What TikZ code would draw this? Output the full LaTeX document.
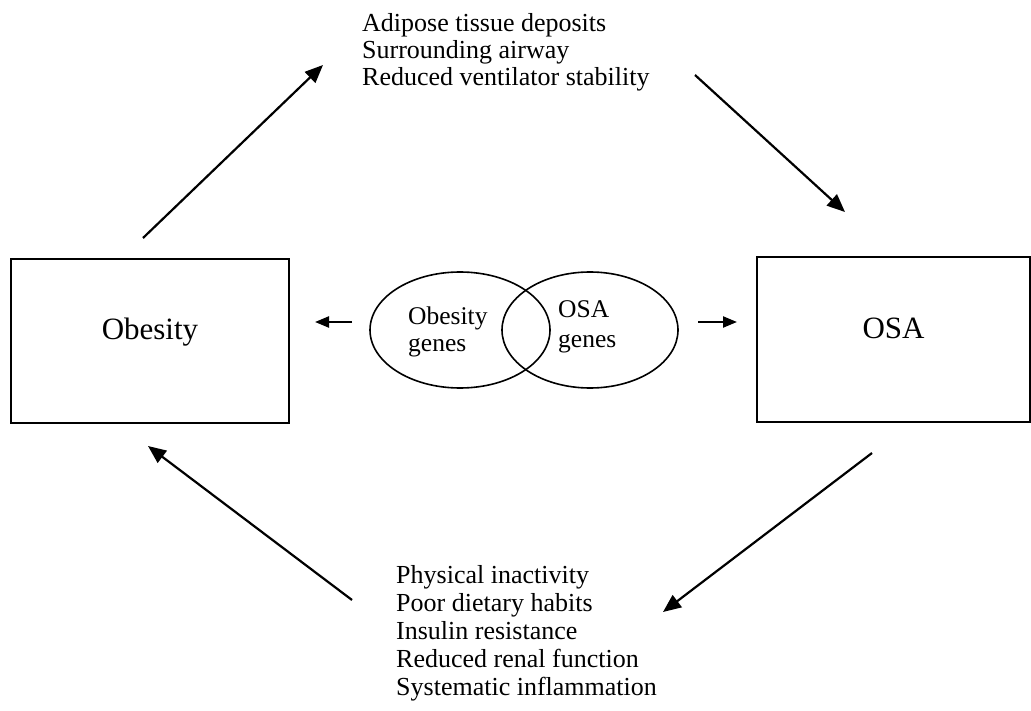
\documentclass[tikz,border=0pt]{standalone}
\usepackage{fontspec}
\setmainfont{Liberation Serif}
\usetikzlibrary{arrows.meta,shapes.geometric}
\begin{document}
\begin{tikzpicture}[x=1pt,y=-1pt,
  box/.style={draw,line width=2pt,inner sep=0pt,font=\fontsize{31}{33}\selectfont,text height=20pt,text depth=22pt},
  oval/.style={draw,ellipse,line width=1.6pt,inner sep=0pt},
  arr/.style={line width=2.2pt,-{Triangle[length=18pt,width=15pt]}},
  lbl/.style={font=\fontsize{26}{28}\selectfont,anchor=base west,inner sep=0pt},
  glbl/.style={font=\fontsize{25.5}{27}\selectfont,anchor=base west,inner sep=0pt}]
\useasboundingbox (0,0) rectangle (1031,711);
% boxes
\node[box,minimum width=278pt,minimum height=164pt] (obesity) at (150,341) {Obesity};
\node[box,minimum width=273pt,minimum height=165pt] (osa) at (893.5,339.5) {OSA};
% ellipses
\node[oval,minimum width=180pt,minimum height=116pt] (eob) at (460,330) {};
\node[oval,minimum width=176pt,minimum height=116pt] (eosa) at (590,330) {};
\node[glbl] (g1) at (408,325) {Obesity};
\node[glbl] (g2) at (408,352) {genes};
\node[glbl] (g3) at (558,318) {OSA};
\node[glbl] (g4) at (558,348) {genes};
% top text
\node[lbl] (a1) at (362,32) {Adipose tissue deposits};
\node[lbl] (a2) at (362,59) {Surrounding airway};
\node[lbl] (a3) at (362,86) {Reduced ventilator stability};
% bottom text
\node[lbl] (b1) at (396,583) {Physical inactivity};
\node[lbl] (b2) at (396,611) {Poor dietary habits};
\node[lbl] (b3) at (396,639) {Insulin resistance};
\node[lbl] (b4) at (396,667) {Reduced renal function};
\node[lbl] (b5) at (396,695) {Systematic inflammation};
% arrow end points
\coordinate (p1) at (143,238);
\coordinate (p2) at (323,65);
\coordinate (p3) at (695,75);
\coordinate (p4) at (845,212);
\coordinate (p5) at (872,453);
\coordinate (p6) at (663,612);
\coordinate (p7) at (352,600);
\coordinate (p8) at (148,446);
\coordinate (s1) at (352,322);
\coordinate (s2) at (315,322);
\coordinate (s3) at (698,322);
\coordinate (s4) at (737,322);
\draw[arr] (p1) -- (p2);
\draw[arr] (p3) -- (p4);
\draw[arr] (p5) -- (p6);
\draw[arr] (p7) -- (p8);
\draw[arr,-{Triangle[length=14pt,width=11pt]}] (s1) -- (s2);
\draw[arr,-{Triangle[length=14pt,width=11pt]}] (s3) -- (s4);
\end{tikzpicture}
\end{document}
